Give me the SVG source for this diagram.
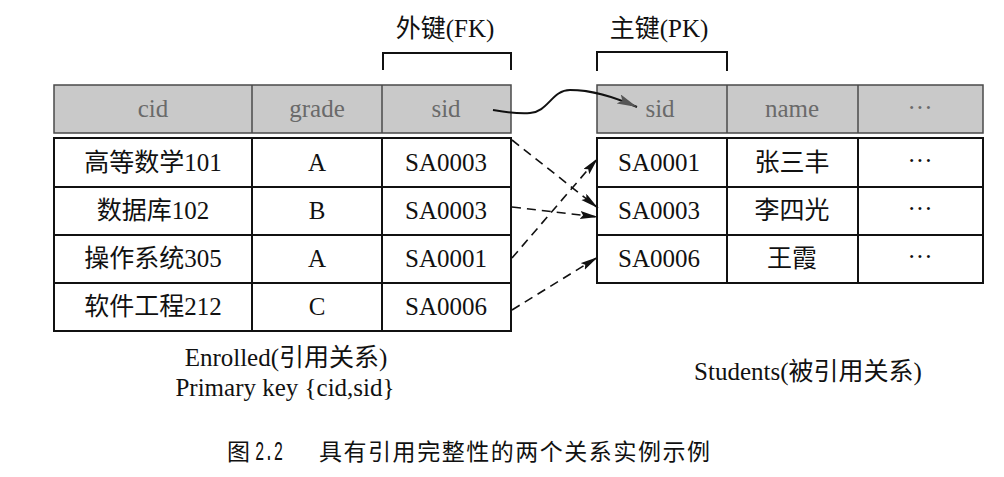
<svg xmlns="http://www.w3.org/2000/svg" width="1004" height="477" viewBox="0 0 1004 477">
<style>
  .t { font-family: "Liberation Serif", "Noto Sans CJK SC", serif; font-size: 25px; fill: #111; text-anchor: middle; }
  .h { font-family: "Liberation Serif", "Noto Sans CJK SC", serif; font-size: 25px; fill: #6a6a6a; text-anchor: middle; }
  .cap { font-family: "Liberation Serif", "Noto Sans CJK SC", serif; font-size: 25px; fill: #111; text-anchor: middle; }
  .fig { font-family: "Noto Sans CJK SC", "Liberation Serif", sans-serif; font-size: 23px; fill: #111; }
  .fignum { font-family: "Liberation Mono", "Noto Sans CJK SC", monospace; font-size: 27px; fill: #111; }
  .hdr { fill: #c9c9c9; stroke: #4a4a4a; stroke-width: 1.5; }
  .cell { fill: #fff; stroke: #111; stroke-width: 2; }
  .br { fill: none; stroke: #111; stroke-width: 2; }
  .dash { fill: none; stroke: #111; stroke-width: 1.6; stroke-dasharray: 9 6; }
</style>
<defs>
  <marker id="ah" markerUnits="userSpaceOnUse" markerWidth="20" markerHeight="10" refX="18" refY="4" orient="auto">
    <path d="M0,0 L18,4 L0,8 L3,4 Z" fill="#111"/>
  </marker>
  <marker id="ahg" markerUnits="userSpaceOnUse" markerWidth="24" markerHeight="12" refX="20" refY="5" orient="auto">
    <path d="M0,0 L20,5 L0,10 L4,5 Z" fill="#555"/>
  </marker>
</defs>
<rect width="1004" height="477" fill="#fff"/>

<g id="fk-label">
  <text class="cap" x="445" y="37">外键(FK)</text>
  <path class="br" d="M383,70 V53 H511 V70"/>
</g>
<g id="pk-label">
  <text class="cap" x="659" y="37">主键(PK)</text>
  <path class="br" d="M597,71 V52 H727 V71"/>
</g>

<g id="enrolled">
  <rect class="hdr" x="54" y="85" width="457" height="48"/>
  <line x1="252" y1="85" x2="252" y2="133" stroke="#4a4a4a" stroke-width="1.5"/>
  <line x1="382" y1="85" x2="382" y2="133" stroke="#4a4a4a" stroke-width="1.5"/>
  <text class="h" x="153" y="117">cid</text>
  <text class="h" x="317" y="117">grade</text>
  <text class="h" x="446" y="117">sid</text>
  <rect class="cell" x="54" y="138" width="457" height="193"/>
  <line x1="54" y1="187" x2="511" y2="187" stroke="#111" stroke-width="2"/>
  <line x1="54" y1="235" x2="511" y2="235" stroke="#111" stroke-width="2"/>
  <line x1="54" y1="283" x2="511" y2="283" stroke="#111" stroke-width="2"/>
  <line x1="252" y1="138" x2="252" y2="331" stroke="#111" stroke-width="2"/>
  <line x1="382" y1="138" x2="382" y2="331" stroke="#111" stroke-width="2"/>
  <text class="t" x="153" y="171">高等数学101</text>
  <text class="t" x="317" y="171">A</text>
  <text class="t" x="446" y="171">SA0003</text>
  <text class="t" x="153" y="219">数据库102</text>
  <text class="t" x="317" y="219">B</text>
  <text class="t" x="446" y="219">SA0003</text>
  <text class="t" x="153" y="267">操作系统305</text>
  <text class="t" x="317" y="267">A</text>
  <text class="t" x="446" y="267">SA0001</text>
  <text class="t" x="153" y="315">软件工程212</text>
  <text class="t" x="317" y="315">C</text>
  <text class="t" x="446" y="315">SA0006</text>
</g>

<g id="students">
  <rect class="hdr" x="597" y="85" width="386" height="48"/>
  <line x1="727" y1="85" x2="727" y2="133" stroke="#4a4a4a" stroke-width="1.5"/>
  <line x1="858" y1="85" x2="858" y2="133" stroke="#4a4a4a" stroke-width="1.5"/>
  <text class="h" x="660" y="117">sid</text>
  <text class="h" x="792" y="117">name</text>
  <text class="h" x="920" y="116">···</text>
  <rect class="cell" x="597" y="138" width="386" height="145"/>
  <line x1="597" y1="187" x2="983" y2="187" stroke="#111" stroke-width="2"/>
  <line x1="597" y1="235" x2="983" y2="235" stroke="#111" stroke-width="2"/>
  <line x1="727" y1="138" x2="727" y2="283" stroke="#111" stroke-width="2"/>
  <line x1="858" y1="138" x2="858" y2="283" stroke="#111" stroke-width="2"/>
  <text class="t" x="659" y="171">SA0001</text>
  <text class="t" x="792" y="171">张三丰</text>
  <text class="t" x="920" y="169">···</text>
  <text class="t" x="659" y="219">SA0003</text>
  <text class="t" x="792" y="219">李四光</text>
  <text class="t" x="920" y="217">···</text>
  <text class="t" x="659" y="267">SA0006</text>
  <text class="t" x="792" y="267">王霞</text>
  <text class="t" x="920" y="265">···</text>
</g>

<g id="connectors">
  <path d="M493,110 C505,112 516,114 530,113 C548,112 552,90 570,90 C592,90 612,96 637,107" fill="none" stroke="#111" stroke-width="2" marker-end="url(#ahg)"/>
  <line class="dash" x1="512" y1="140" x2="598" y2="208" marker-end="url(#ah)"/>
  <line class="dash" x1="512" y1="207" x2="598" y2="217" marker-end="url(#ah)"/>
  <line class="dash" x1="512" y1="258" x2="598" y2="158" marker-end="url(#ah)"/>
  <line class="dash" x1="512" y1="310" x2="598" y2="257" marker-end="url(#ah)"/>
</g>

<g id="captions">
  <text class="cap" x="286" y="366">Enrolled(引用关系)</text>
  <text class="cap" x="285" y="396">Primary key {cid,sid}</text>
  <text class="cap" x="808" y="380">Students(被引用关系)</text>
  <text class="fig" x="227" y="460">图</text>
  <text class="fignum" x="255" y="460" textLength="28" lengthAdjust="spacingAndGlyphs">2.2</text>
  <text class="fig" x="319" y="460" textLength="391" lengthAdjust="spacing">具有引用完整性的两个关系实例示例</text>
</g>
</svg>
